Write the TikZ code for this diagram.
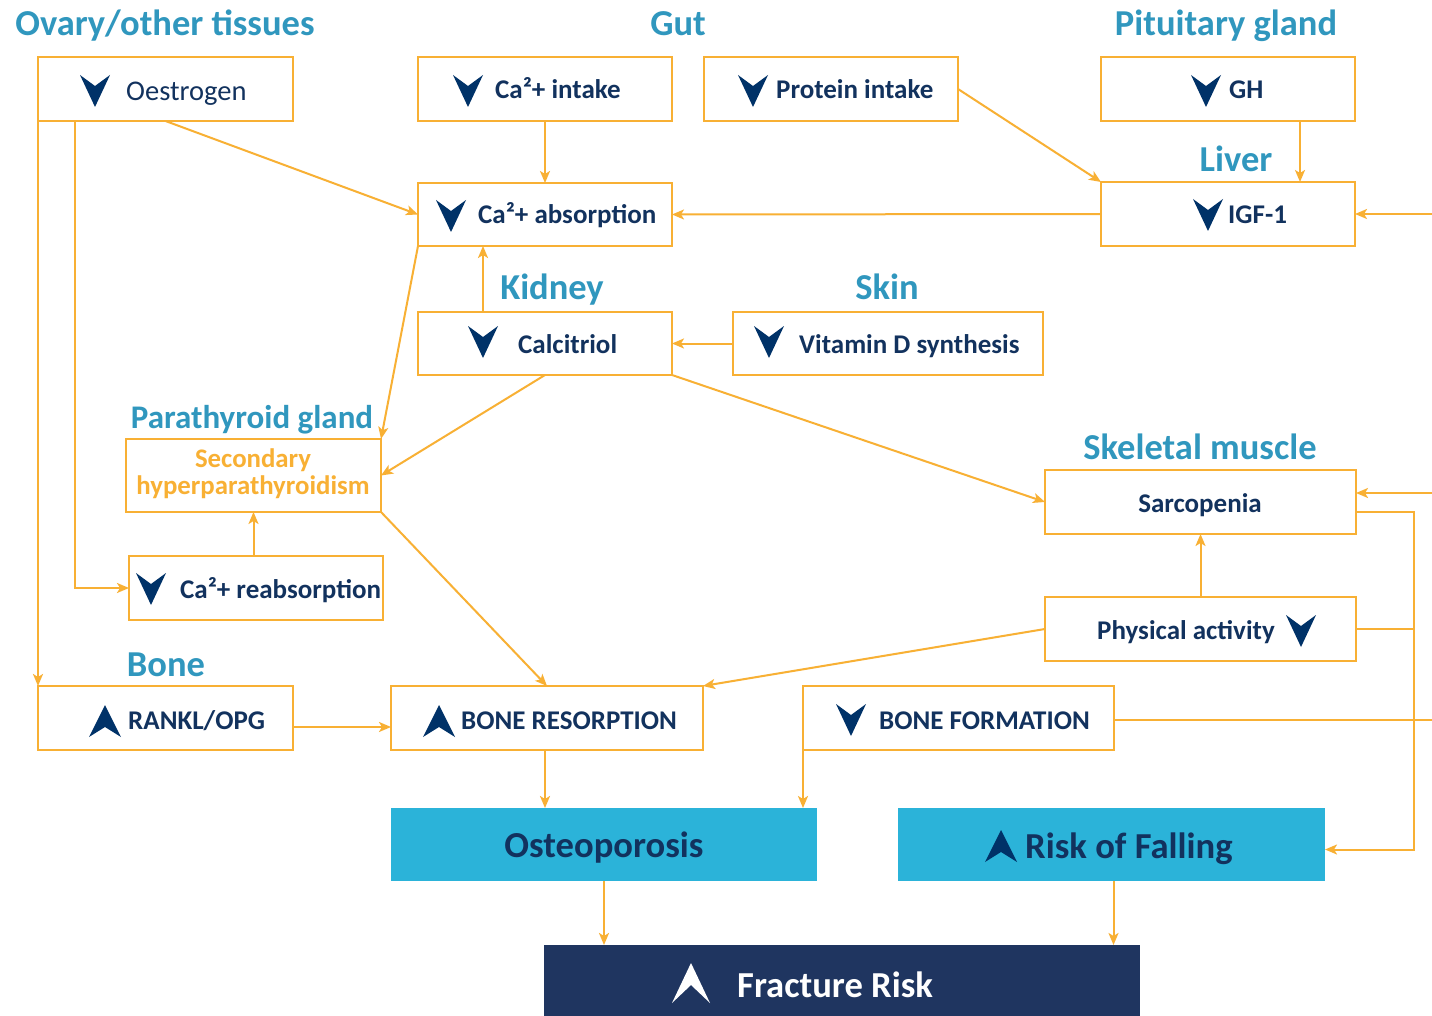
\documentclass[tikz,border=0pt]{standalone}
\usepackage{fontspec}
\setmainfont{Carlito}
\usetikzlibrary{arrows.meta}
\definecolor{orng}{HTML}{F8B034}
\definecolor{teal}{HTML}{3097BE}
\definecolor{navytxt}{HTML}{12325E}
\definecolor{navyarr}{HTML}{003268}
\definecolor{lblue}{HTML}{2BB3D9}
\definecolor{dnavy}{HTML}{1F3560}
\begin{document}
\begin{tikzpicture}[x=1pt,y=-1pt,
  box/.style={draw=orng, line width=2pt, fill=white, inner sep=0pt, outer sep=0pt},
  bigbox/.style={fill=lblue, draw=none, inner sep=0pt, outer sep=0pt},
  txt/.style={font=\fontsize{27}{32}\selectfont\bfseries, text=navytxt, inner sep=0pt, anchor=base west},
  reg/.style={font=\fontsize{28.5}{32}\selectfont, text=navytxt, inner sep=0pt, anchor=base west},
  big/.style={font=\fontsize{36.6}{42}\selectfont\bfseries, text=navytxt, inner sep=0pt, anchor=base west},
  hdr/.style={font=\fontsize{36.5}{42}\selectfont\bfseries, text=teal, inner sep=0pt, anchor=base},
  arr/.style={draw=orng, line width=2pt, -{Stealth[length=12pt,width=10pt,inset=3pt]}},
  ln/.style={draw=orng, line width=2pt},
  dn/.pic={\fill[navyarr] (-15,-16) -- (0,16) -- (15,-16) -- (0,-5) -- cycle;},
  up/.pic={\fill[navyarr] (-16,16) -- (0,-16) -- (16,16) -- (0,6) -- cycle;},
  upw/.pic={\fill[white] (-19,20) -- (0,-20) -- (19,20) -- (0,2) -- cycle;}
]
\useasboundingbox (0,0) rectangle (1432,1016);
\fill[white] (0,0) rectangle (1432,1016);

% headers
\node[hdr] (h1) at (165,36) {Ovary/other tissues};
\node[hdr] (h2) at (678,36) {Gut};
\node[hdr] (h3) at (1226,36) {Pituitary gland};
\node[hdr] (h4) at (1236,172) {Liver};
\node[hdr] (h5) at (552,300) {Kidney};
\node[hdr] (h6) at (887,300) {Skin};
\node[hdr, font=\fontsize{33}{38}\selectfont\bfseries] (h7) at (252,428) {Parathyroid gland};
\node[hdr] (h8) at (1200,459) {Skeletal muscle};
\node[hdr] (h9) at (166,676) {Bone};

% boxes
\node[box, minimum width=255pt, minimum height=64pt] (oes) at (165.5,89) {};
\node[box, minimum width=254pt, minimum height=64pt] (cain) at (545,89) {};
\node[box, minimum width=254pt, minimum height=64pt] (prot) at (831,89) {};
\node[box, minimum width=254pt, minimum height=64pt] (gh) at (1228,89) {};
\node[box, minimum width=254pt, minimum height=64pt] (igf) at (1228,214) {};
\node[box, minimum width=254pt, minimum height=63pt] (abs) at (545,214.5) {};
\node[box, minimum width=254pt, minimum height=63pt] (cal) at (545,343.5) {};
\node[box, minimum width=310pt, minimum height=63pt] (vitd) at (888,343.5) {};
\node[box, minimum width=255pt, minimum height=73pt] (sec) at (253.5,475.5) {};
\node[box, minimum width=254pt, minimum height=64pt] (reab) at (256,588) {};
\node[box, minimum width=311pt, minimum height=64pt] (sarc) at (1200.5,502) {};
\node[box, minimum width=311pt, minimum height=64pt] (pa) at (1200.5,629) {};
\node[box, minimum width=255pt, minimum height=64pt] (rank) at (165.5,718) {};
\node[box, minimum width=312pt, minimum height=64pt] (bres) at (547,718) {};
\node[box, minimum width=311pt, minimum height=64pt] (bform) at (958.5,718) {};
\node[bigbox, minimum width=426pt, minimum height=73pt] (ost) at (604,844.5) {};
\node[bigbox, minimum width=427pt, minimum height=73pt] (fall) at (1111.5,844.5) {};
\node[fill=dnavy, inner sep=0pt, outer sep=0pt, minimum width=596pt, minimum height=71pt] (frac) at (842,980.5) {};

% box texts
\pic at (95,91) {dn};   \node[reg] (t1) at (126,101) {Oestrogen};
\pic at (468,91) {dn};  \node[txt] (t2) at (495,99) {Ca²+ intake};
\pic at (753,91) {dn};  \node[txt] (t3) at (776,99) {Protein intake};
\pic at (1206,91) {dn}; \node[txt] (t4) at (1229,99) {GH};
\pic at (1208,215) {dn}; \node[txt] (t5) at (1228,224) {IGF-1};
\pic at (451,216) {dn}; \node[txt] (t6) at (478,224) {Ca²+ absorption};
\pic at (483,342) {dn}; \node[txt] (t7) at (518,353) {Calcitriol};
\pic at (769,342) {dn}; \node[txt] (t8) at (799,353) {Vitamin D synthesis};
\node[font=\fontsize{26.8}{27}\selectfont\bfseries, text=orng, inner sep=0pt, align=center] (t9) at (253,474) {Secondary\\hyperparathyroidism};
\pic at (151,589) {dn}; \node[txt] (t10) at (180,598) {Ca²+ reabsorption};
\node[txt, anchor=base] (t11) at (1200,512) {Sarcopenia};
\node[txt] (t12) at (1097,639) {Physical activity}; \pic at (1301,631) {dn};
\pic at (105,721) {up}; \node[txt] (t13) at (128,729) {RANKL/OPG};
\pic at (439,721) {up}; \node[txt] (t14) at (461,729) {BONE RESORPTION};
\pic at (851,720) {dn}; \node[txt] (t15) at (879,729) {BONE FORMATION};
\node[big, anchor=base] (t16) at (604,857) {Osteoporosis};
\pic at (1001,846) {up}; \node[big] (t17) at (1025,858) {Risk of Falling};
\pic at (691,983) {upw}; \node[big, text=white] (t18) at (737,997) {Fracture Risk};

% connectors
\coordinate (rigf) at (1432,214);
\coordinate (rsarc) at (1432,493);
\coordinate (rform) at (1432,720);
\coordinate (rj) at (1414,600);
\coordinate (sarcout) at ([yshift=-10pt]sarc.east);
\coordinate (fallin) at ([yshift=-5pt]fall.east);

\draw[arr] (oes.south) -- (abs.west);
\draw[arr] (cain.south) -- (abs.north);
\draw[arr] (prot.east) -- (igf.north west);
\draw[arr] ([xshift=72pt]gh.south) -- ([xshift=72pt]igf.north);
\draw[arr] (igf.west) -- (abs.east);
\draw[arr] (rigf) -- (igf.east);
\draw[arr] ([xshift=-62pt]cal.north) -- ([xshift=-62pt]abs.south);
\draw[arr] (vitd.west) -- (cal.east);
\draw[arr] (abs.south west) -- (sec.north east);
\draw[arr] (cal.south) -- (sec.east);
\draw[arr] (cal.south east) -- (sarc.west);
\draw[arr] (sec.south |- reab.north) -- (sec.south);
\draw[arr] ([xshift=-90.5pt]oes.south) |- (reab.west);
\draw[arr] (oes.south west) -- (rank.north west);
\draw[arr] (sec.south east) -- (bres.north);
\draw[arr] (pa.west) -- (bres.north east);
\draw[arr] (pa.north) -- (sarc.south);
\draw[arr] ([yshift=-9pt]rank.east) -- ([yshift=-9pt]bres.west);
\draw[arr] ([xshift=-2pt]bres.south) -- ([xshift=-2pt]bres.south |- ost.north);
\draw[arr] (bform.south west) -- (bform.south west |- ost.north);
\draw[ln] ([yshift=-2pt]bform.east) -- (rform);
\draw[arr] (sarcout) -- (sarcout -| rj) -- (rj |- fallin) -- (fallin);
\draw[ln] (pa.east) -- (pa.east -| rj);
\draw[arr] (rsarc) -- ([yshift=9pt]sarc.east);
\draw[arr] (ost.south) -- (ost.south |- frac.north);
\draw[arr] ([xshift=2pt]fall.south) -- ([xshift=2pt]fall.south |- frac.north);
\end{tikzpicture}
\end{document}
